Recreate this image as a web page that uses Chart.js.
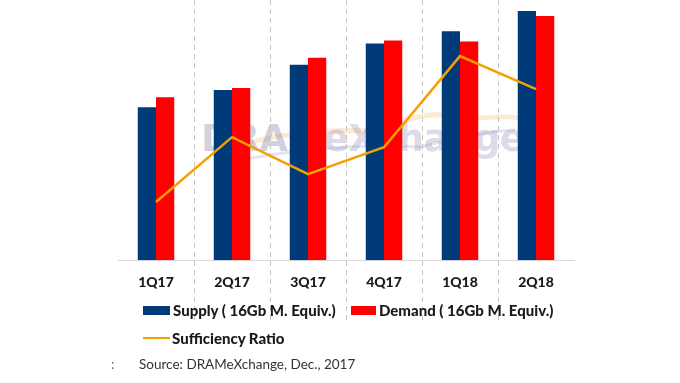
<!DOCTYPE html>
<html>
<head>
<meta charset="utf-8">
<script src="https://cdn.jsdelivr.net/npm/chart.js@4/dist/chart.umd.min.js"></script>
<style>
  html,body{margin:0;padding:0;background:#fff;}
  #wrap{position:relative;width:680px;height:383px;overflow:hidden;font-family:Lato,"Open Sans",sans-serif;}
  #c{position:absolute;left:0;top:0;}
  .wm{position:absolute;left:201px;top:117px;font-family:"DejaVu Sans",sans-serif;font-weight:bold;font-size:37px;letter-spacing:-0.5px;white-space:nowrap;}
  .wm .a{color:rgba(110,110,160,0.32);}
  .wm .b{color:rgba(140,130,175,0.30);}
  .lg{position:absolute;font-weight:900;font-size:15px;color:#1a1a1a;white-space:nowrap;line-height:16px;}
  .box{position:absolute;}
  .src{position:absolute;left:139px;top:355px;font-size:13.5px;color:#333;white-space:nowrap;line-height:18px;}
  .dots{position:absolute;left:111px;top:355px;font-size:13px;color:#666;line-height:18px;}
</style>
</head>
<body>
<div id="wrap">
  <svg style="position:absolute;left:0;top:0" width="680" height="383">
    <path d="M215 152 Q300 125 380 132 Q430 105 460 120 Q500 115 520 118" stroke="rgba(245,170,80,0.25)" stroke-width="5" fill="none"/>
    <path d="M230 162 Q330 142 420 147 Q480 132 515 130" stroke="rgba(90,110,170,0.18)" stroke-width="3" fill="none"/>
  </svg>
  <div class="wm"><span class="a">DRAM</span><span class="b">eXchange</span></div>
  <canvas id="c" width="680" height="383"></canvas>
  <div class="box" style="left:143px;top:306px;width:27px;height:9px;background:#003A78"></div>
  <div class="lg" style="left:173px;top:302px">Supply ( 16Gb M. Equiv.)</div>
  <div class="box" style="left:351px;top:306px;width:25px;height:9px;background:#FF0000"></div>
  <div class="lg" style="left:379px;top:302px">Demand ( 16Gb M. Equiv.)</div>
  <div class="box" style="left:143px;top:337px;width:27px;height:2px;background:#F5A000"></div>
  <div class="lg" style="left:172px;top:330px">Sufficiency Ratio</div>
  <div class="dots">:</div>
  <div class="src">Source: DRAMeXchange, Dec., 2017</div>
</div>
<script>
const categories = ['1Q17','2Q17','3Q17','4Q17','1Q18','2Q18'];
const supply = [151,168,193,214,226,246];
const demand = [161,170,200,217,216,241];
const sufficiencyRatio = [-1.85,-0.57,-1.30,-0.77,1.03,0.38];

const dashedGrid = {
  id:'dashedGrid',
  beforeDatasetsDraw(chart){
    const x = chart.scales.x, ctx = chart.ctx;
    ctx.save();
    ctx.strokeStyle = '#c4c4c4';
    ctx.lineWidth = 1;
    ctx.setLineDash([5,4]);
    for(let i=0;i<categories.length-1;i++){
      const px = Math.round((x.getPixelForValue(i)+x.getPixelForValue(i+1))/2)+0.5;
      ctx.beginPath();
      ctx.moveTo(px,0);
      ctx.lineTo(px,320);
      ctx.stroke();
    }
    ctx.restore();
  }
};

new Chart(document.getElementById('c'),{
  data:{
    labels:categories,
    datasets:[
      {type:'line',label:'Sufficiency Ratio',data:sufficiencyRatio,yAxisID:'y1',borderColor:'#F5A000',borderWidth:2.5,pointRadius:0,tension:0,order:0},
      {type:'bar',label:'Supply ( 16Gb M. Equiv.)',data:supply,backgroundColor:'#003A78',yAxisID:'y',categoryPercentage:0.48,barPercentage:1.0,order:1},
      {type:'bar',label:'Demand ( 16Gb M. Equiv.)',data:demand,backgroundColor:'#FF0000',yAxisID:'y',categoryPercentage:0.48,barPercentage:1.0,order:1}
    ]
  },
  options:{
    responsive:false,
    animation:false,
    layout:{padding:{left:118,right:106,top:7,bottom:86}},
    plugins:{legend:{display:false},tooltip:{enabled:false}},
    scales:{
      x:{
        grid:{display:false},
        border:{display:true,color:'#d9d9d9',width:1},
        ticks:{font:{family:'Lato',weight:'900',size:14},color:'#1a1a1a',padding:6}
      },
      y:{display:false,min:0,max:250},
      y1:{display:false,min:-3,max:2}
    }
  },
  plugins:[dashedGrid]
});
</script>
</body>
</html>
